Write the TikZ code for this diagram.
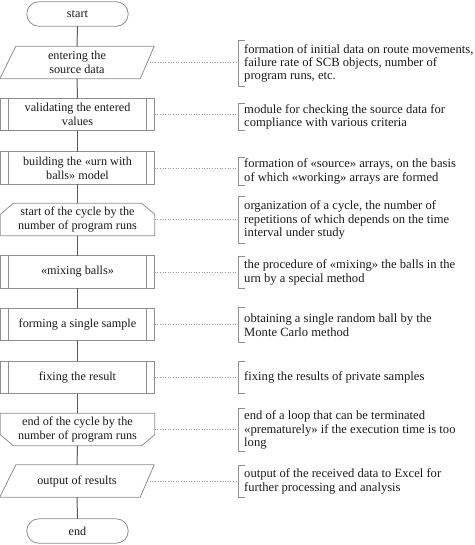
\documentclass[tikz,border=0pt]{standalone}
\usepackage{fontspec}
\setmainfont{Liberation Serif}
\definecolor{bordergray}{HTML}{8E8E8E}
\definecolor{linegray}{HTML}{5A5A5A}
\definecolor{dotgray}{HTML}{9A9A9A}
\definecolor{textgray}{HTML}{1A1A1A}
\begin{document}
\begin{tikzpicture}[x=1pt,y=-1pt,
  box/.style={minimum width=154pt, minimum height=32pt, inner sep=0pt, align=center,
    text=textgray, font=\fontsize{12.2}{14}\selectfont},
  term/.style={box, minimum width=101pt, minimum height=24pt},
  outline/.style={draw=bordergray, line width=0.8pt},
  flow/.style={draw=linegray, line width=1pt},
  dots/.style={draw=dotgray, dotted, line width=0.6pt},
  note/.style={anchor=west, align=left, inner xsep=6pt, inner ysep=0pt, text=textgray,
    font=\fontsize{12.6}{13.4}\selectfont},
  brk/.style={draw=bordergray, line width=0.8pt}
]
\useasboundingbox (0,0) rectangle (474,545);

% shapes
\node[term] (s) at (77.5,14) {start};
\node[box] (in) at (77,62.5) {entering the\\source data};
\node[box] (v) at (77.5,114.5) {validating the entered\\values};
\node[box] (b) at (77.5,168) {building the «urn with\\balls» model};
\node[box] (ls) at (77.5,219.5) {start of the cycle by the\\number of program runs};
\node[box] (m) at (77.5,272) {«mixing balls»};
\node[box] (f) at (77.5,324.5) {forming a single sample};
\node[box] (fx) at (77.5,377.5) {fixing the result};
\node[box] (le) at (77.5,429.5) {end of the cycle by the\\number of program runs};
\node[box] (o) at (77,481) {output of results};
\node[term] (e) at (77.5,531) {end};

% outlines
\draw[outline, rounded corners=12pt] (s.north west) rectangle (s.south east);
\draw[outline, rounded corners=12pt] (e.north west) rectangle (e.south east);
\foreach \n in {in,o}{
  \draw[outline] ([xshift=16pt]\n.north west) -- (\n.north east) -- ([xshift=-14pt]\n.south east) -- (\n.south west) -- cycle;
}
\foreach \n in {v,b,m,f,fx}{
  \draw[outline] (\n.north west) rectangle (\n.south east);
  \draw[outline] ([xshift=8pt]\n.north west) -- ([xshift=8pt]\n.south west);
  \draw[outline] ([xshift=-8pt]\n.north east) -- ([xshift=-8pt]\n.south east);
}
\draw[outline] (ls.south west) -- ([yshift=-11pt]ls.north west) -- ([xshift=13pt]ls.north west)
  -- ([xshift=-13pt]ls.north east) -- ([yshift=-11pt]ls.north east) -- (ls.south east) -- cycle;
\draw[outline] (le.north west) -- ([yshift=11pt]le.south west) -- ([xshift=13pt]le.south west)
  -- ([xshift=-13pt]le.south east) -- ([yshift=11pt]le.south east) -- (le.north east) -- cycle;

% flow connectors
\draw[flow] (s.south) -- (in.north);
\draw[flow] (in.south) -- (v.north);
\draw[flow] (v.south) -- (b.north);
\draw[flow] (b.south) -- (ls.north);
\draw[flow] (ls.south) -- (m.north);
\draw[flow] (m.south) -- (f.north);
\draw[flow] (f.south) -- (fx.north);
\draw[flow] (fx.south) -- (le.north);
\draw[flow] (le.south) -- (o.north);
\draw[flow] (o.south) -- (e.north);

% comments
\node[note, minimum height=45pt] (c1) at (238,63.5) {formation of initial data on route movements,\\failure rate of SCB objects, number of\\program runs, etc.};
\node[note, minimum height=26pt] (c2) at (238,117) {module for checking the source data for\\compliance with various criteria};
\node[note, minimum height=27pt] (c3) at (238,171.5) {formation of «source» arrays, on the basis\\of which «working» arrays are formed};
\node[note, minimum height=46pt] (c4) at (238,220) {organization of a cycle, the number of\\repetitions of which depends on the time\\interval under study};
\node[note, minimum height=31pt] (c5) at (238,272.5) {the procedure of «mixing» the balls in the\\urn by a special method};
\node[note, minimum height=34pt] (c6) at (238,325) {obtaining a single random ball by the\\Monte Carlo method};
\node[note, minimum height=31pt] (c7) at (238,377.5) {fixing the results of private samples};
\node[note, minimum height=42pt] (c8) at (238,430) {end of a loop that can be terminated\\«prematurely» if the execution time is too\\long};
\node[note, minimum height=31pt] (c9) at (238,481.5) {output of the received data to Excel for\\further processing and analysis};

\foreach \c in {c1,c2,c3,c4,c5,c6,c7,c8,c9}{
  \draw[brk] ([xshift=7pt]\c.north west) -- (\c.north west) -- (\c.south west) -- ([xshift=7pt]\c.south west);
}

% dotted connectors
\draw[dots] ([xshift=-7pt]in.east) -- (in.east -| c1.west);
\draw[dots] (v.east) -- (v.east -| c2.west);
\draw[dots] (b.east) -- (b.east -| c3.west);
\draw[dots] (ls.east) -- (ls.east -| c4.west);
\draw[dots] (m.east) -- (m.east -| c5.west);
\draw[dots] (f.east) -- (f.east -| c6.west);
\draw[dots] (fx.east) -- (fx.east -| c7.west);
\draw[dots] (le.east) -- (le.east -| c8.west);
\draw[dots] ([xshift=-7pt]o.east) -- (o.east -| c9.west);
\end{tikzpicture}
\end{document}
